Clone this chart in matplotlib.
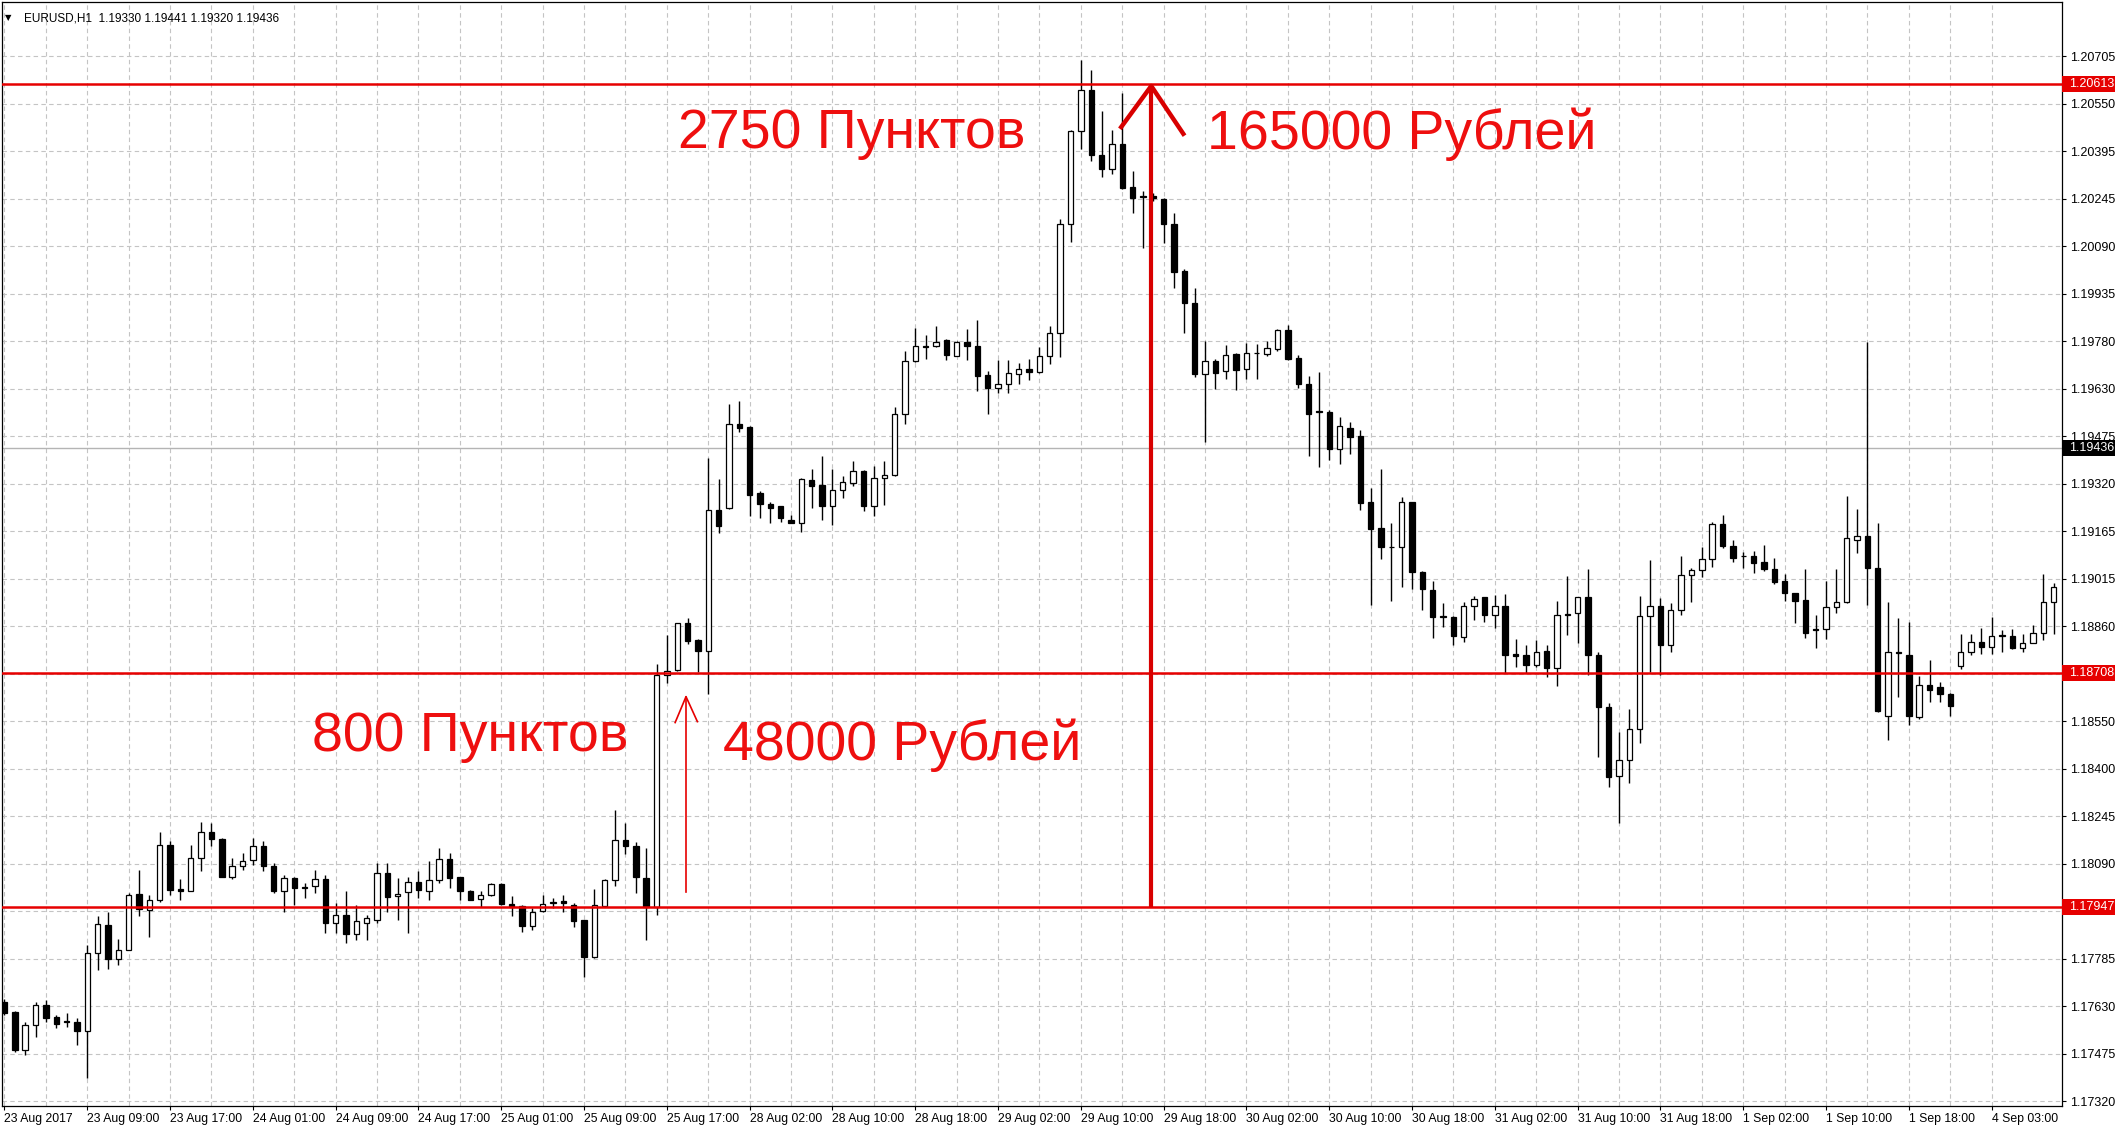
import numpy as np
import matplotlib
matplotlib.use('Agg')
import matplotlib.pyplot as plt
from matplotlib.transforms import blended_transform_factory
from matplotlib.patches import Rectangle

plt.rcParams['font.family'] = ['Liberation Sans', 'DejaVu Sans']

# EURUSD H1 bars
opens = [
	1.17642, 1.17607, 1.17484, 1.17567, 1.17632, 1.17591, 1.17580, 1.17577, 1.17548, 1.17801,
	1.17891, 1.17780, 1.17810, 1.17991, 1.17939, 1.17970, 1.18150, 1.18008, 1.18001, 1.18107,
	1.18190, 1.18168, 1.18047, 1.18080, 1.18101, 1.18147, 1.18082, 1.17999, 1.18044, 1.18012,
	1.18015, 1.18040, 1.17898, 1.17923, 1.17861, 1.17898, 1.17907, 1.18058, 1.17983, 1.17996,
	1.18029, 1.18002, 1.18035, 1.18104, 1.18045, 1.18002, 1.17974, 1.17988, 1.18024, 1.17959,
	1.17952, 1.17888, 1.17937, 1.17963, 1.17969, 1.17956, 1.17905, 1.17786, 1.17953, 1.18035,
	1.18164, 1.18147, 1.18042, 1.17950, 1.18699, 1.18715, 1.18867, 1.18812, 1.18777, 1.19235,
	1.19241, 1.19514, 1.19503, 1.19289, 1.19255, 1.19246, 1.19203, 1.19194, 1.19333, 1.19317,
	1.19246, 1.19300, 1.19322, 1.19362, 1.19248, 1.19338, 1.19347, 1.19544, 1.19718, 1.19767,
	1.19765, 1.19785, 1.19734, 1.19780, 1.19767, 1.19671, 1.19631, 1.19642, 1.19674, 1.19691,
	1.19680, 1.19732, 1.19808, 1.20160, 1.20462, 1.20594, 1.20383, 1.20340, 1.20419, 1.20282,
	1.20253, 1.20250, 1.20241, 1.20160, 1.20009, 1.19906, 1.19676, 1.19717, 1.19685, 1.19739,
	1.19690, 1.19742, 1.19739, 1.19757, 1.19816, 1.19728, 1.19642, 1.19555, 1.19553, 1.19431,
	1.19501, 1.19474, 1.19259, 1.19175, 1.19116, 1.19114, 1.19259, 1.19035, 1.18976, 1.18891,
	1.18887, 1.18822, 1.18924, 1.18952, 1.18895, 1.18924, 1.18767, 1.18765, 1.18733, 1.18779,
	1.18722, 1.18898, 1.18900, 1.18952, 1.18765, 1.18598, 1.18373, 1.18425, 1.18524, 1.18891,
	1.18924, 1.18798, 1.18909, 1.19024, 1.19040, 1.19075, 1.19189, 1.19118, 1.19087, 1.19086,
	1.19067, 1.19043, 1.19003, 1.18965, 1.18943, 1.18849, 1.18848, 1.18920, 1.18935, 1.19138,
	1.19151, 1.19046, 1.18568, 1.18776, 1.18765, 1.18565, 1.18668, 1.18660, 1.18639, 1.18730,
	1.18773, 1.18808, 1.18792, 1.18829, 1.18827, 1.18787, 1.18805, 1.18837, 1.18938]

highs = [
	1.17650, 1.17612, 1.17577, 1.17642, 1.17648, 1.17599, 1.17605, 1.17588, 1.17826, 1.17918,
	1.17934, 1.17844, 1.17993, 1.18069, 1.17988, 1.18190, 1.18161, 1.18039, 1.18150, 1.18223,
	1.18220, 1.18172, 1.18107, 1.18123, 1.18172, 1.18161, 1.18091, 1.18053, 1.18046, 1.18026,
	1.18069, 1.18053, 1.17961, 1.17999, 1.17956, 1.17923, 1.18091, 1.18091, 1.18042, 1.18047,
	1.18064, 1.18096, 1.18139, 1.18123, 1.18047, 1.18004, 1.17999, 1.18026, 1.18026, 1.17983,
	1.17956, 1.17945, 1.17988, 1.17977, 1.17988, 1.17961, 1.17907, 1.18006, 1.18039, 1.18264,
	1.18222, 1.18158, 1.18139, 1.18737, 1.18829, 1.18870, 1.18886, 1.18818, 1.19403, 1.19335,
	1.19577, 1.19588, 1.19506, 1.19295, 1.19262, 1.19248, 1.19219, 1.19338, 1.19368, 1.19409,
	1.19368, 1.19344, 1.19392, 1.19365, 1.19376, 1.19392, 1.19569, 1.19750, 1.19823, 1.19801,
	1.19832, 1.19788, 1.19783, 1.19821, 1.19851, 1.19685, 1.19720, 1.19720, 1.19710, 1.19723,
	1.19761, 1.19832, 1.20176, 1.20467, 1.20692, 1.20660, 1.20527, 1.20467, 1.20586, 1.20333,
	1.20268, 1.20262, 1.20246, 1.20198, 1.20014, 1.19955, 1.19782, 1.19723, 1.19768, 1.19744,
	1.19777, 1.19771, 1.19782, 1.19822, 1.19833, 1.19736, 1.19669, 1.19680, 1.19559, 1.19535,
	1.19521, 1.19494, 1.19305, 1.19367, 1.19194, 1.19278, 1.19262, 1.19037, 1.19003, 1.18933,
	1.18890, 1.18938, 1.18956, 1.18954, 1.18960, 1.18963, 1.18816, 1.18798, 1.18812, 1.18798,
	1.18941, 1.19021, 1.18954, 1.19043, 1.18776, 1.18609, 1.18517, 1.18589, 1.18956, 1.19073,
	1.18949, 1.18933, 1.19086, 1.19046, 1.19114, 1.19197, 1.19219, 1.19138, 1.19097, 1.19103,
	1.19121, 1.19078, 1.19028, 1.18967, 1.19043, 1.18895, 1.19006, 1.19043, 1.19280, 1.19237,
	1.19780, 1.19194, 1.18938, 1.18884, 1.18873, 1.18697, 1.18749, 1.18679, 1.18641, 1.18833,
	1.18833, 1.18852, 1.18887, 1.18846, 1.18848, 1.18833, 1.18862, 1.19028, 1.18997]

lows = [
	1.17600, 1.17480, 1.17469, 1.17529, 1.17577, 1.17556, 1.17561, 1.17502, 1.17394, 1.17743,
	1.17747, 1.17761, 1.17808, 1.17918, 1.17853, 1.17966, 1.17988, 1.17972, 1.17999, 1.18064,
	1.18145, 1.18045, 1.18039, 1.18069, 1.18085, 1.18064, 1.17993, 1.17934, 1.17956, 1.17977,
	1.17993, 1.17864, 1.17864, 1.17831, 1.17842, 1.17842, 1.17896, 1.17934, 1.17907, 1.17864,
	1.17977, 1.17972, 1.18026, 1.18010, 1.17972, 1.17970, 1.17950, 1.17983, 1.17956, 1.17918,
	1.17869, 1.17875, 1.17934, 1.17945, 1.17934, 1.17885, 1.17723, 1.17783, 1.17950, 1.18015,
	1.18121, 1.17993, 1.17842, 1.17923, 1.18674, 1.18713, 1.18800, 1.18710, 1.18639, 1.19159,
	1.19237, 1.19487, 1.19214, 1.19208, 1.19192, 1.19197, 1.19192, 1.19162, 1.19241, 1.19203,
	1.19187, 1.19273, 1.19313, 1.19230, 1.19214, 1.19252, 1.19346, 1.19512, 1.19715, 1.19725,
	1.19761, 1.19721, 1.19732, 1.19721, 1.19620, 1.19547, 1.19615, 1.19613, 1.19642, 1.19656,
	1.19678, 1.19707, 1.19729, 1.20103, 1.20405, 1.20365, 1.20314, 1.20322, 1.20273, 1.20195,
	1.20084, 1.20235, 1.20098, 1.19955, 1.19809, 1.19666, 1.19455, 1.19628, 1.19660, 1.19623,
	1.19660, 1.19660, 1.19733, 1.19750, 1.19720, 1.19631, 1.19409, 1.19375, 1.19397, 1.19384,
	1.19416, 1.19233, 1.18927, 1.19075, 1.18941, 1.18984, 1.18978, 1.18909, 1.18819, 1.18855,
	1.18798, 1.18808, 1.18879, 1.18873, 1.18852, 1.18706, 1.18727, 1.18706, 1.18727, 1.18695,
	1.18663, 1.18830, 1.18803, 1.18700, 1.18436, 1.18337, 1.18220, 1.18350, 1.18479, 1.18711,
	1.18700, 1.18776, 1.18895, 1.18935, 1.19019, 1.19051, 1.19111, 1.19067, 1.19046, 1.19032,
	1.19038, 1.18995, 1.18941, 1.18870, 1.18819, 1.18787, 1.18816, 1.18902, 1.18933, 1.19094,
	1.18927, 1.18580, 1.18490, 1.18630, 1.18538, 1.18557, 1.18614, 1.18614, 1.18568, 1.18719,
	1.18765, 1.18768, 1.18768, 1.18776, 1.18784, 1.18773, 1.18803, 1.18812, 1.18833]

closes = [
	1.17605, 1.17484, 1.17567, 1.17632, 1.17588, 1.17570, 1.17575, 1.17548, 1.17801, 1.17894,
	1.17780, 1.17810, 1.17988, 1.17942, 1.17970, 1.18150, 1.18004, 1.18001, 1.18107, 1.18190,
	1.18168, 1.18047, 1.18080, 1.18099, 1.18147, 1.18080, 1.17999, 1.18044, 1.18010, 1.18010,
	1.18039, 1.17896, 1.17923, 1.17861, 1.17904, 1.17912, 1.18058, 1.17980, 1.17991, 1.18029,
	1.18004, 1.18037, 1.18104, 1.18042, 1.18002, 1.17972, 1.17988, 1.18024, 1.17959, 1.17947,
	1.17888, 1.17931, 1.17959, 1.17966, 1.17961, 1.17902, 1.17786, 1.17956, 1.18037, 1.18164,
	1.18147, 1.18047, 1.17950, 1.18699, 1.18713, 1.18867, 1.18810, 1.18777, 1.19235, 1.19183,
	1.19512, 1.19501, 1.19284, 1.19255, 1.19241, 1.19208, 1.19194, 1.19335, 1.19313, 1.19246,
	1.19300, 1.19324, 1.19362, 1.19248, 1.19338, 1.19349, 1.19544, 1.19718, 1.19765, 1.19763,
	1.19780, 1.19736, 1.19780, 1.19765, 1.19669, 1.19631, 1.19642, 1.19677, 1.19691, 1.19680,
	1.19732, 1.19808, 1.20160, 1.20462, 1.20594, 1.20383, 1.20340, 1.20419, 1.20279, 1.20246,
	1.20249, 1.20245, 1.20160, 1.20005, 1.19906, 1.19674, 1.19717, 1.19679, 1.19736, 1.19688,
	1.19742, 1.19744, 1.19760, 1.19816, 1.19725, 1.19642, 1.19544, 1.19553, 1.19431, 1.19505,
	1.19472, 1.19256, 1.19172, 1.19114, 1.19114, 1.19259, 1.19035, 1.18978, 1.18889, 1.18887,
	1.18825, 1.18924, 1.18945, 1.18895, 1.18924, 1.18765, 1.18763, 1.18733, 1.18773, 1.18722,
	1.18895, 1.18895, 1.18952, 1.18765, 1.18598, 1.18369, 1.18425, 1.18524, 1.18891, 1.18924,
	1.18798, 1.18909, 1.19024, 1.19040, 1.19075, 1.19189, 1.19118, 1.19080, 1.19085, 1.19064,
	1.19043, 1.19000, 1.18965, 1.18941, 1.18837, 1.18847, 1.18920, 1.18938, 1.19143, 1.19151,
	1.19046, 1.18582, 1.18776, 1.18770, 1.18568, 1.18668, 1.18652, 1.18639, 1.18600, 1.18776,
	1.18808, 1.18792, 1.18827, 1.18827, 1.18787, 1.18805, 1.18837, 1.18938, 1.18984]

timeLabels = ['23 Aug 2017', '23 Aug 09:00', '23 Aug 17:00', '24 Aug 01:00', '24 Aug 09:00',
	'24 Aug 17:00', '25 Aug 01:00', '25 Aug 09:00', '25 Aug 17:00', '28 Aug 02:00',
	'28 Aug 10:00', '28 Aug 18:00', '29 Aug 02:00', '29 Aug 10:00', '29 Aug 18:00',
	'30 Aug 02:00', '30 Aug 10:00', '30 Aug 18:00', '31 Aug 02:00', '31 Aug 10:00',
	'31 Aug 18:00', '1 Sep 02:00', '1 Sep 10:00', '1 Sep 18:00', '4 Sep 03:00']

# 1.17935 and 1.18705 sit under the red level boxes, so they are left blank
priceLabels = ['1.17320', '1.17475', '1.17630', '1.17785', '', '1.18090', '1.18245',
	'1.18400', '1.18550', '', '1.18860', '1.19015', '1.19165', '1.19320', '1.19475',
	'1.19630', '1.19780', '1.19935', '1.20090', '1.20245', '1.20395', '1.20550', '1.20705']

levels = [1.20613, 1.18708, 1.17947]
lastPrice = 1.19436
header = 'EURUSD,H1  1.19330 1.19441 1.19320 1.19436'

# annotations: text, bar position, baseline price
notes = [
	('2750 Пунктов', 65.1, 1.20407),
	('165000 Рублей', 116.2, 1.20404),
	('800 Пунктов', 29.7, 1.18454),
	('48000 Рублей', 69.4, 1.18425),
]

RED = '#e60000'

fig = plt.figure(figsize=(21.15, 11.28), dpi=100)
ax = fig.add_axes([2 / 2115, 22 / 1128, 2060 / 2115, 1104 / 1128])

x = np.arange(len(opens))
o = np.array(opens)
c = np.array(closes)
up = c >= o

# candles
ax.vlines(x, lows, highs, color='black', linewidth=1.0, zorder=3)
ax.bar(x, np.abs(c - o), width=0.52, bottom=np.minimum(o, c),
	color=np.where(up, 'white', 'black'), edgecolor='black', linewidth=0.9, zorder=4)

ax.axhline(lastPrice, color='#b4b4b4', linewidth=1.0, zorder=2)
for level in levels:
	ax.axhline(level, color=RED, linewidth=1.8, zorder=5)

ax.set_xlim(-0.24, 198.8)
ax.set_ylim(1.17304, 1.20880)

ax.set_xticks(np.arange(len(timeLabels)) * 8)
ax.set_xticklabels(timeLabels, ha='left')
ax.set_xticks(np.arange(len(timeLabels) - 1) * 8 + 4, minor=True)
ax.set_yticks(np.linspace(1.17320, 1.20705, len(priceLabels)))
ax.set_yticklabels(priceLabels)
ax.yaxis.tick_right()

ax.tick_params(axis='x', which='major', direction='out', length=3, width=0.8, pad=2, labelsize=8.8)
ax.tick_params(axis='x', which='minor', length=0)
ax.tick_params(axis='y', direction='out', length=3, width=0.8, pad=2.5, labelsize=9)
ax.grid(True, which='both', color='#c4c4c4', linestyle=(0, (4, 3)), linewidth=0.8)
ax.set_axisbelow(True)
for side in ax.spines.values():
	side.set_linewidth(0.9)
	side.set_color('black')

# price boxes on the right scale
tr = blended_transform_factory(ax.transAxes, ax.transData)
boxH = 16 / 30871
boxW = 53 / 2060
for level, face in [(levels[0], RED), (levels[1], RED), (levels[2], RED), (lastPrice, 'black')]:
	ax.add_patch(Rectangle((1.0, level - boxH / 2), boxW, boxH, transform=tr,
		facecolor=face, edgecolor='none', clip_on=False, zorder=8))
	ax.text(1.0034, level, '%.5f' % level, transform=tr, color='white', fontsize=9,
		ha='left', va='center', clip_on=False, zorder=9)

# header line
ax.text(0.0015, 0.9855, '▼', transform=ax.transAxes, fontsize=6, va='center',
	family=['DejaVu Sans'])
ax.text(0.0107, 0.9855, header, transform=ax.transAxes, fontsize=8.5, va='center')

# red annotations
for text, bx, by in notes:
	ax.text(bx, by, text, color='#ee0f0f', fontsize=40, ha='left', va='baseline', zorder=10)

# thin arrow 800 points
ax.plot([65.85, 65.85], [1.17997, 1.18630], color=RED, linewidth=1.2, zorder=10)
ax.plot([64.8, 65.85, 66.95], [1.18546, 1.18630, 1.18549], color=RED, linewidth=1.2, zorder=10)

# thick arrow 2750 points
ax.plot([110.8, 110.8], [levels[2], 1.20608], color='#d80000', linewidth=3.0,
	solid_capstyle='butt', zorder=10)
ax.plot([107.9, 110.8, 113.9], [1.20475, 1.20608, 1.20453], color='#d80000', linewidth=3.2,
	zorder=10)

plt.savefig('out.png', dpi=100)
